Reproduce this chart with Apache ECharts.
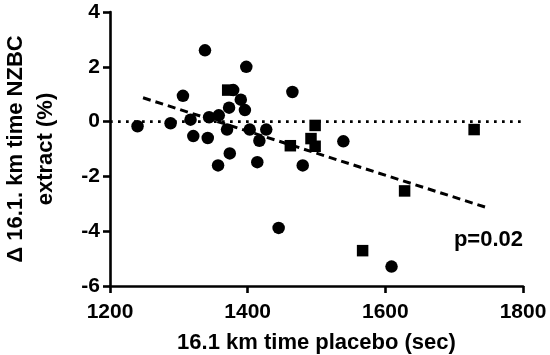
<!DOCTYPE html>
<html>
<head>
<meta charset="utf-8">
<script src="https://cdn.jsdelivr.net/npm/echarts@6/dist/echarts.min.js"></script>
<style>
html,body{margin:0;padding:0;background:#fff;}
#chart{width:550px;height:355px;}
</style>
</head>
<body>
<div id="chart"></div>
<script>
// Circles (group 1): [placebo time (sec), delta %]
var circlePoints = [
  [1240, -0.17], [1288, -0.06], [1306, 0.94], [1317, 0.07], [1321, -0.53],
  [1338, 2.6], [1342, -0.6], [1344, 0.16], [1357, -1.6], [1358, 0.23],
  [1370, -0.29], [1373, 0.51], [1374, -1.16], [1379, 1.15], [1390, 0.8],
  [1396, 0.42], [1398, 2.0], [1403, -0.29], [1414, -1.48], [1417, -0.7],
  [1427, -0.29], [1445, -3.88], [1465, 1.08], [1480, -1.6], [1539, -0.72],
  [1609, -5.29]
];
// Squares (group 2)
var squarePoints = [
  [1371, 1.15], [1462, -0.88], [1492, -0.62], [1498, -0.14], [1498, -0.9],
  [1567, -4.71], [1628, -2.53], [1729, -0.29]
];
// Regression line endpoints
var regressionLine = [[1248, 0.87], [1750, -3.16]];
// Zero reference line
var zeroLine = [[1200, 0], [1800, 0]];
var xTicks = {min: 1200, max: 1800, interval: 200};
var yTicks = {min: -6, max: 4, interval: 2};
var pText = 'p=0.02';
var xTitle = '16.1 km time placebo (sec)';
var yTitle = '\u0394 16.1. km time NZBC\nextract (%)';

var FONT = "'Liberation Sans', Arial, sans-serif";
var chart = echarts.init(document.getElementById('chart'), null, {renderer: 'canvas'});
var axisCommon = {
  axisLine: {show: true, onZero: false, lineStyle: {color: '#000', width: 2.6}},
  axisTick: {show: true, inside: false, length: 7, lineStyle: {color: '#000', width: 2.6}},
  splitLine: {show: false},
  axisLabel: {color: '#000', fontFamily: FONT, fontWeight: 'bold', fontSize: 21,
    formatter: function (v) { return String(v); }},
  nameTextStyle: {color: '#000', fontFamily: FONT, fontWeight: 'bold', fontSize: 22}
};
chart.setOption({
  animation: false,
  backgroundColor: '#fff',
  grid: {left: 110, right: 27, top: 12, bottom: 69, containLabel: false, outerBoundsMode: 'none'},
  xAxis: Object.assign({}, axisCommon, {
    type: 'value', min: xTicks.min, max: xTicks.max, interval: xTicks.interval,
    name: xTitle, nameLocation: 'middle', nameGap: 46,
    axisLabel: Object.assign({}, axisCommon.axisLabel, {margin: 16})
  }),
  yAxis: Object.assign({}, axisCommon, {
    type: 'value', min: yTicks.min, max: yTicks.max, interval: yTicks.interval,
    name: yTitle, nameLocation: 'middle', nameGap: 49, nameRotate: 90,
    nameTextStyle: Object.assign({}, axisCommon.nameTextStyle, {lineHeight: 30, align: 'center'}),
    axisLabel: Object.assign({}, axisCommon.axisLabel, {margin: 10})
  }),
  graphic: [{
    type: 'text', right: 27, top: 229, z: 10,
    style: {text: pText, fill: '#000', font: 'bold 22px ' + FONT}
  }],
  series: [
    {
      type: 'line', data: zeroLine, symbol: 'none', z: 1, silent: true,
      lineStyle: {color: '#000', width: 2.7, type: [2.7, 5.3]}
    },
    {
      type: 'line', data: regressionLine, symbol: 'none', z: 1, silent: true,
      lineStyle: {color: '#000', width: 3, type: [8, 5]}
    },
    {
      type: 'scatter', data: circlePoints, symbol: 'circle', symbolSize: 12.5, z: 3,
      itemStyle: {color: '#000', opacity: 1}
    },
    {
      type: 'scatter', data: squarePoints, symbol: 'rect', symbolSize: 11.5, z: 3,
      itemStyle: {color: '#000', opacity: 1}
    }
  ]
});
</script>
</body>
</html>
